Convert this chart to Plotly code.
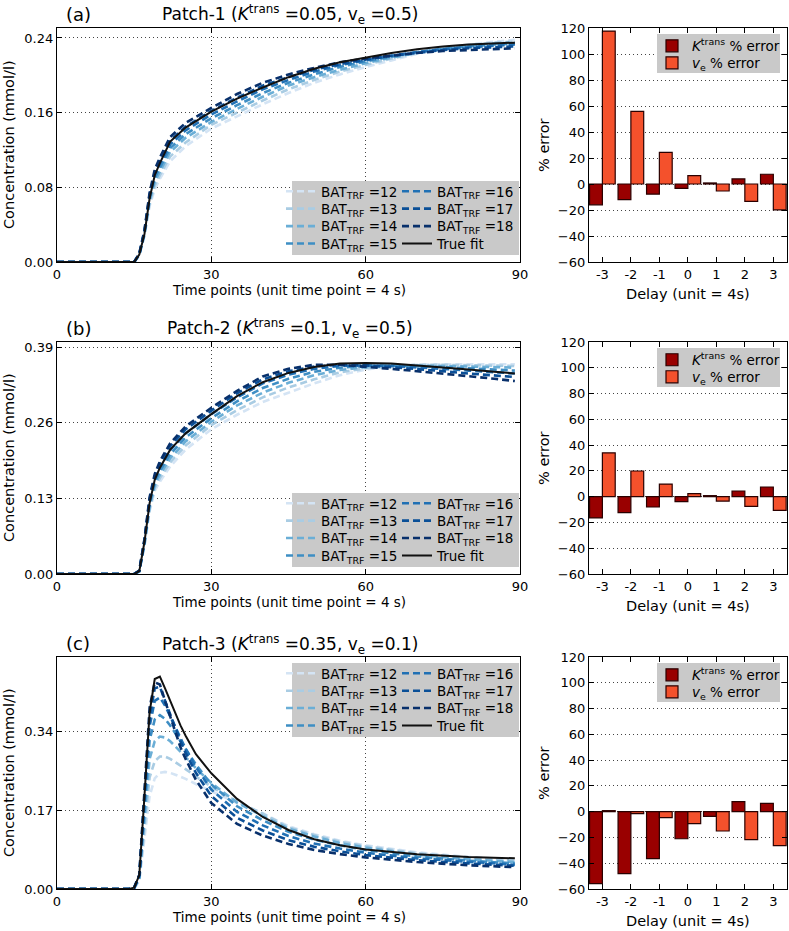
import plotly.graph_objects as go

# ---------------- data ----------------
T_AB = [0, 15, 16, 17, 18, 19, 20, 22, 25, 30, 35, 40, 45, 50, 55, 60, 65, 70, 75, 80, 85, 89]
T_C = [0, 14, 15, 16, 17, 18, 19, 20, 21, 22, 23, 24, 25, 27, 30, 35, 40, 45, 50, 55, 60, 70, 80, 89]
BAT_LABELS = [12, 13, 14, 15, 16, 17, 18]
DELAYS = [-3, -2, -1, 0, 1, 2, 3]

# Patch-1
P1_TRUE = [0, 0, .008, .030, .068, .093, .106, .129, .144, .161, .175, .187, .198, .207, .214, .219, .224, .228, .231, .233, .234, .235]
P1_BAT12 = [0, 0, .007, .028, .060, .078, .089, .108, .124, .143, .156, .169, .181, .192, .201, .209, .216, .223, .229, .233, .236, .238]
P1_BAT13 = [0, 0, .007, .029, .063, .082, .093, .113, .128, .147, .160, .173, .185, .195, .204, .211, .218, .224, .229, .232, .235, .236]
P1_BAT14 = [0, 0, .008, .030, .066, .086, .097, .118, .133, .150, .164, .177, .189, .198, .206, .213, .219, .224, .228, .232, .234, .235]
P1_BAT15 = [0, 0, .008, .031, .068, .090, .101, .122, .137, .154, .168, .181, .192, .201, .209, .215, .220, .225, .228, .231, .233, .234]
P1_BAT16 = [0, 0, .008, .032, .070, .093, .105, .126, .141, .158, .172, .185, .195, .204, .211, .216, .221, .225, .228, .230, .232, .233]
P1_BAT17 = [0, 0, .009, .033, .072, .096, .109, .130, .145, .162, .176, .189, .198, .206, .212, .217, .221, .224, .227, .229, .230, .231]
P1_BAT18 = [0, 0, .009, .034, .074, .099, .112, .134, .149, .165, .180, .192, .201, .208, .214, .218, .221, .224, .226, .227, .228, .229]

# Patch-2
P2_TRUE = [0, 0, .005, .055, .122, .162, .183, .214, .242, .275, .306, .330, .346, .356, .362, .363, .362, .359, .356, .352, .348, .345]
P2_BAT12 = [0, 0, .004, .048, .108, .143, .159, .185, .214, .249, .274, .296, .312, .328, .342, .352, .357, .360, .361, .361, .361, .361]
P2_BAT13 = [0, 0, .004, .050, .112, .148, .165, .192, .221, .256, .282, .304, .321, .335, .347, .354, .358, .360, .360, .359, .358, .358]
P2_BAT14 = [0, 0, .005, .052, .116, .153, .171, .199, .228, .262, .290, .312, .329, .342, .351, .356, .359, .359, .358, .357, .356, .355]
P2_BAT15 = [0, 0, .005, .054, .120, .158, .177, .206, .235, .268, .297, .320, .336, .348, .355, .358, .359, .358, .356, .354, .352, .350]
P2_BAT16 = [0, 0, .005, .056, .124, .163, .183, .213, .242, .275, .304, .328, .343, .353, .358, .359, .358, .356, .353, .350, .347, .345]
P2_BAT17 = [0, 0, .006, .058, .128, .168, .189, .220, .249, .281, .311, .335, .349, .357, .360, .359, .356, .353, .349, .345, .342, .339]
P2_BAT18 = [0, 0, .006, .060, .132, .172, .194, .225, .254, .286, .315, .340, .353, .360, .360, .357, .353, .349, .345, .340, .336, .332]

# Patch-3
P3_TRUE = [0, 0, .003, .030, .200, .380, .452, .457, .432, .405, .378, .352, .330, .290, .249, .194, .155, .127, .107, .094, .085, .075, .069, .066]
P3_BAT12 = [0, 0, .001, .018, .110, .200, .238, .250, .252, .250, .246, .242, .237, .226, .210, .185, .163, .135, .118, .104, .094, .079, .069, .063]
P3_BAT13 = [0, 0, .002, .020, .130, .240, .275, .285, .285, .280, .273, .266, .258, .242, .220, .188, .162, .133, .116, .102, .092, .077, .067, .061]
P3_BAT14 = [0, 0, .002, .022, .150, .280, .318, .328, .326, .318, .307, .296, .284, .260, .228, .186, .157, .130, .113, .099, .089, .074, .064, .058]
P3_BAT15 = [0, 0, .002, .025, .170, .320, .365, .374, .366, .352, .335, .318, .300, .268, .225, .178, .148, .123, .106, .094, .084, .070, .061, .055]
P3_BAT16 = [0, 0, .003, .028, .190, .350, .405, .412, .395, .372, .347, .324, .302, .262, .214, .166, .137, .114, .098, .087, .078, .066, .058, .052]
P3_BAT17 = [0, 0, .003, .030, .200, .370, .432, .435, .405, .375, .345, .318, .293, .250, .200, .153, .126, .105, .091, .081, .073, .062, .055, .050]
P3_BAT18 = [0, 0, .003, .030, .210, .390, .445, .440, .405, .370, .335, .305, .280, .235, .185, .140, .115, .097, .084, .075, .068, .058, .051, .047]

# % error bars
P1_KTRANS_ERR = [-16, -12, -7.8, -3.4, 0.8, 3.9, 7.5]
P1_VE_ERR = [117.6, 55.8, 24.3, 6.5, -5.4, -13.4, -19.9]
P2_KTRANS_ERR = [-16.5, -12.4, -8, -3.9, 0.8, 4.4, 7.5]
P2_VE_ERR = [34, 19.9, 9.8, 2.3, -3.4, -7.5, -10.6]
P3_KTRANS_ERR = [-55.9, -48, -36.5, -21, -3.6, 7.8, 6.5]
P3_VE_ERR = [0.8, -1.5, -4.7, -9.3, -15, -21.7, -26.4]

BLUES = ['#d4e4f4', '#a9cce3', '#6aaed6', '#3e8ec4', '#2070b4', '#0a4f97', '#08306b']
K_COLOR = '#990000'
VE_COLOR = '#f4512c'
LEG_GRAY = '#c9c9c9'
GRID = '#444444'
FONT = 'DejaVu Sans'

W, H = 789, 931


def px_x(p):
    return p / W


def px_y(p):
    return 1 - p / H


panels = [
    dict(label='(a)', title='Patch-1 (<i>K</i><sup>trans</sup> =0.05, v<sub>e</sub> =0.5)',
         t=T_AB, true=P1_TRUE,
         bats=[P1_BAT12, P1_BAT13, P1_BAT14, P1_BAT15, P1_BAT16, P1_BAT17, P1_BAT18],
         yr=[0, 0.2507], yt=[0, 0.08, 0.16, 0.24], top=28, bot=262, legtop=181,
         kerr=P1_KTRANS_ERR, verr=P1_VE_ERR),
    dict(label='(b)', title='Patch-2 (<i>K</i><sup>trans</sup> =0.1, v<sub>e</sub> =0.5)',
         t=T_AB, true=P2_TRUE,
         bats=[P2_BAT12, P2_BAT13, P2_BAT14, P2_BAT15, P2_BAT16, P2_BAT17, P2_BAT18],
         yr=[0, 0.3992], yt=[0, 0.13, 0.26, 0.39], top=342, bot=574, legtop=493,
         kerr=P2_KTRANS_ERR, verr=P2_VE_ERR),
    dict(label='(c)', title='Patch-3 (<i>K</i><sup>trans</sup> =0.35, v<sub>e</sub> =0.1)',
         t=T_C, true=P3_TRUE,
         bats=[P3_BAT12, P3_BAT13, P3_BAT14, P3_BAT15, P3_BAT16, P3_BAT17, P3_BAT18],
         yr=[0, 0.4993], yt=[0, 0.17, 0.34], top=657, bot=889, legtop=663,
         kerr=P3_KTRANS_ERR, verr=P3_VE_ERR),
]

LX0, LX1 = 57, 520
BX0, BX1 = 589, 787

fig = go.Figure()
layout = dict(width=W, height=H, margin=dict(l=0, r=0, t=0, b=0, pad=0, autoexpand=False),
              paper_bgcolor='white', plot_bgcolor='white',
              font=dict(family=FONT, size=13, color='black'),
              barmode='group', bargap=0.1, bargroupgap=0,
              showlegend=True)
shapes = []
annotations = []

axis_common = dict(showline=True, linecolor='black', linewidth=1.3, mirror='allticks',
                   ticks='inside', ticklen=5, tickwidth=1, tickcolor='black',
                   zeroline=False, automargin=False,
                   tickfont=dict(family=FONT, size=13, color='black'))
grid_common = dict(showgrid=True, gridcolor=GRID, griddash='1px,3px', gridwidth=1)

leg_counter = [0]


def new_legend_name():
    leg_counter[0] += 1
    n = leg_counter[0]
    return 'legend' if n == 1 else f'legend{n}'


for i, p in enumerate(panels):
    lx = 'x' if i == 0 else f'x{2 * i + 1}'
    ly = 'y' if i == 0 else f'y{2 * i + 1}'
    bx = f'x{2 * i + 2}'
    by = f'y{2 * i + 2}'
    lxk = 'xaxis' if i == 0 else f'xaxis{2 * i + 1}'
    lyk = 'yaxis' if i == 0 else f'yaxis{2 * i + 1}'
    bxk = f'xaxis{2 * i + 2}'
    byk = f'yaxis{2 * i + 2}'

    # one horizontal legend per row (two columns)
    row_legs = [new_legend_name() for _ in range(4)]
    for r, lg in enumerate(row_legs):
        layout[lg] = dict(x=px_x(281), y=px_y(p['legtop'] + 10.5 + 17.4 * r),
                          xanchor='left', yanchor='middle', orientation='h',
                          bgcolor='rgba(0,0,0,0)', font=dict(family=FONT, size=13.5),
                          entrywidth=71, entrywidthmode='pixels', itemwidth=30,
                          tracegroupgap=0)
    bar_legs = [new_legend_name() for _ in range(2)]
    for r, lg in enumerate(bar_legs):
        layout[lg] = dict(x=px_x(652), y=px_y(p['top'] + 18 + 17 * r),
                          xanchor='left', yanchor='middle', orientation='h',
                          bgcolor='rgba(0,0,0,0)', font=dict(family=FONT, size=13.5),
                          itemwidth=30, tracegroupgap=0)

    # line traces
    for j, b in enumerate(BAT_LABELS):
        fig.add_trace(go.Scatter(
            x=p['t'], y=p['bats'][j], mode='lines',
            line=dict(color=BLUES[j], width=2.6, dash='7px,4px'),
            name=f'BAT<sub>TRF</sub> ={b}', xaxis=lx, yaxis=ly,
            legend=row_legs[j % 4]))
    fig.add_trace(go.Scatter(
        x=p['t'], y=p['true'], mode='lines',
        line=dict(color='#111111', width=2), name='True fit',
        xaxis=lx, yaxis=ly, legend=row_legs[3]))

    # bars
    fig.add_trace(go.Bar(x=DELAYS, y=p['kerr'], name='<i>K</i><sup>trans</sup> % error',
                         marker=dict(color=K_COLOR, line=dict(color='#2a0000', width=1.2)),
                         xaxis=bx, yaxis=by, legend=bar_legs[0]))
    fig.add_trace(go.Bar(x=DELAYS, y=p['verr'], name='<i>v</i><sub>e</sub> % error',
                         marker=dict(color=VE_COLOR, line=dict(color='#2a0000', width=1.2)),
                         xaxis=bx, yaxis=by, legend=bar_legs[1]))

    ydom = [px_y(p['bot']), px_y(p['top'])]
    layout[lxk] = dict(axis_common, domain=[px_x(LX0), px_x(LX1)], anchor=ly,
                       range=[0, 90], tickvals=[0, 30, 60, 90], **grid_common)
    layout[lyk] = dict(axis_common, domain=ydom, anchor=lx, range=p['yr'],
                       tickvals=p['yt'], tickformat='.2f', **grid_common)
    layout[bxk] = dict(axis_common, domain=[px_x(BX0), px_x(BX1)], anchor=by,
                       range=[-3.47, 3.48], tickvals=DELAYS, ticktext=[str(d) for d in DELAYS],
                       showgrid=False)
    layout[byk] = dict(axis_common, domain=ydom, anchor=bx, range=[-60, 120],
                       tickvals=list(range(-60, 121, 20)), **grid_common)

    # legend background boxes
    shapes.append(dict(type='rect', xref='paper', yref='paper', layer='above',
                       x0=px_x(292), x1=px_x(519), y0=px_y(p['legtop'] + 74), y1=px_y(p['legtop']),
                       fillcolor=LEG_GRAY, line=dict(width=0)))
    shapes.append(dict(type='rect', xref='paper', yref='paper', layer='above',
                       x0=px_x(657), x1=px_x(780), y0=px_y(p['top'] + 45), y1=px_y(p['top'] + 6),
                       fillcolor=LEG_GRAY, line=dict(width=0)))

    # titles
    annotations.append(dict(text=p['label'], x=px_x(78), y=px_y(p['top'] - 14), xref='paper', yref='paper',
                            showarrow=False, xanchor='center', yanchor='middle',
                            font=dict(family=FONT, size=18)))
    annotations.append(dict(text=p['title'], x=px_x(290), y=px_y(p['top'] - 13), xref='paper', yref='paper',
                            showarrow=False, xanchor='center', yanchor='middle',
                            font=dict(family=FONT, size=17)))
    annotations.append(dict(text='Time points (unit time point = 4 s)', x=px_x(289), y=px_y(p['bot'] + 28),
                            xref='paper', yref='paper', showarrow=False, xanchor='center', yanchor='middle',
                            font=dict(family=FONT, size=13.5)))
    annotations.append(dict(text='Concentration (mmol/l)', x=px_x(9), y=px_y((p['top'] + p['bot']) / 2),
                            xref='paper', yref='paper', showarrow=False, textangle=-90,
                            xanchor='center', yanchor='middle', font=dict(family=FONT, size=14.5)))
    annotations.append(dict(text='Delay (unit = 4s)', x=px_x(688), y=px_y(p['bot'] + 32),
                            xref='paper', yref='paper', showarrow=False, xanchor='center', yanchor='middle',
                            font=dict(family=FONT, size=14.5)))
    annotations.append(dict(text='% error', x=px_x(544), y=px_y((p['top'] + p['bot']) / 2),
                            xref='paper', yref='paper', showarrow=False, textangle=-90,
                            xanchor='center', yanchor='middle', font=dict(family=FONT, size=14.5)))

layout['shapes'] = shapes
layout['annotations'] = annotations
fig.update_layout(**layout)
fig.write_html('out.html', config={'displayModeBar': False},
               post_script="document.body.style.margin='0px';document.body.style.padding='0px';")
